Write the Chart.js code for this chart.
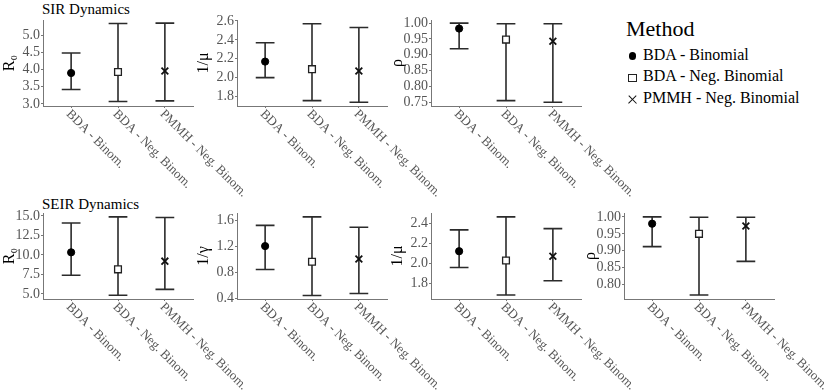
<!DOCTYPE html>
<html>
<head>
<meta charset="utf-8">
<script src="https://cdn.jsdelivr.net/npm/chart.js@4"></script>
<style>
  body { margin: 0; background: #fff; }
  #fig { position: relative; width: 831px; height: 392px; overflow: hidden; font-family: "Liberation Serif", "DejaVu Serif", serif; }
  #fig canvas { position: absolute; }
  .titulo { position: absolute; font-size: 15px; line-height: 15px; color: #000; white-space: nowrap; }
  #legenda { position: absolute; left: 626px; top: 18px; color: #000; }
  #legenda .cab { font-size: 22px; line-height: 22px; margin-bottom: 3.8px; }
  #legenda .item { position: relative; font-size: 16px; line-height: 21.5px; padding-left: 17px; white-space: nowrap; }
  .mk { position: absolute; box-sizing: border-box; }
  .mk.circ { left: 2.5px; top: 8.5px; width: 7.5px; height: 7.5px; border-radius: 50%; background: #000; }
  .mk.quad { left: 2px; top: 8.5px; width: 8.5px; height: 8.5px; border: 1.3px solid #222; background: #fff; }
  .mk.cruz { left: 2px; top: 8.5px; width: 8.5px; height: 8.5px; }
  .mk.cruz::before, .mk.cruz::after { content: ""; position: absolute; left: -1.2px; top: 3.5px; width: 10.9px; height: 1.4px; background: #111; }
  .mk.cruz::before { transform: rotate(45deg); }
  .mk.cruz::after { transform: rotate(-45deg); }
</style>
</head>
<body>
<div id="fig">
  <div class="titulo" style="left:42px; top:2px;">SIR Dynamics</div>
  <div class="titulo" style="left:42px; top:197px;">SEIR Dynamics</div>
  <div id="legenda">
    <div class="cab">Method</div>
    <div class="item"><span class="mk circ"></span>BDA - Binomial</div>
    <div class="item"><span class="mk quad"></span>BDA - Neg. Binomial</div>
    <div class="item"><span class="mk cruz"></span>PMMH - Neg. Binomial</div>
  </div>
</div>
<script>
// =========================================================
// 1. DADOS
// =========================================================
const metodos = ['BDA - Binom.', 'BDA - Neg. Binom.', 'PMMH - Neg. Binom.'];

// SIR - R0
const sirR0Media = [3.90, 3.93, 3.96];
const sirR0Inf = [3.42, 3.07, 3.09];
const sirR0Sup = [4.48, 5.34, 5.35];
const sirR0Ticks = [3.0, 3.5, 4.0, 4.5, 5.0];

// SIR - 1/mu
const sirMuMedia = [2.17, 2.09, 2.07];
const sirMuInf = [2.00, 1.757, 1.74];
const sirMuSup = [2.37, 2.57, 2.53];
const sirMuTicks = [1.8, 2.0, 2.2, 2.4, 2.6];

// SIR - rho
const sirRhoMedia = [0.983, 0.948, 0.943];
const sirRhoInf = [0.919, 0.755, 0.750];
const sirRhoSup = [1.000, 0.998, 0.998];
const sirRhoTicks = [0.75, 0.80, 0.85, 0.90, 0.95, 1.00];

// SEIR - R0
const seirR0Media = [10.33, 8.15, 9.20];
const seirR0Inf = [7.40, 4.83, 5.58];
const seirR0Sup = [14.08, 14.87, 14.79];
const seirR0Ticks = [5.0, 7.5, 10.0, 12.5, 15.0];

// SEIR - 1/gamma
const seirGamaMedia = [1.20, 0.96, 1.00];
const seirGamaInf = [0.84, 0.44, 0.47];
const seirGamaSup = [1.52, 1.65, 1.49];
const seirGamaTicks = [0.4, 0.8, 1.2, 1.6];

// SEIR - 1/mu
const seirMuMedia = [2.12, 2.026, 2.07];
const seirMuInf = [1.957, 1.68, 1.823];
const seirMuSup = [2.334, 2.465, 2.347];
const seirMuTicks = [1.8, 2.0, 2.2, 2.4];

// SEIR - rho
const seirRhoMedia = [0.980, 0.950, 0.973];
const seirRhoInf = [0.9125, 0.770, 0.869];
const seirRhoSup = [1.000, 0.999, 0.999];
const seirRhoTicks = [0.80, 0.85, 0.90, 0.95, 1.00];


// =========================================================
// 2. PLUGINS: barras de erro e rótulos inclinados do eixo x
// =========================================================
const FONTE = '"Liberation Serif", "DejaVu Serif", serif';

const barrasErro = {
    id: 'barrasErro',
    beforeDatasetsDraw(chart) {
        const { ctx, scales: { x, y } } = chart;
        const ds = chart.data.datasets[0];
        ctx.save();
        ctx.strokeStyle = '#2b2b2b';
        ctx.lineWidth = 1.6;
        ds.inf.forEach((lo, i) => {
            const px = x.getPixelForValue(i + 1);
            const meia = x.getPixelForValue(i + 1.2) - px; // largura do "chapéu" = 0.4
            const yLo = y.getPixelForValue(lo);
            const yHi = y.getPixelForValue(ds.sup[i]);
            ctx.beginPath();
            ctx.moveTo(px, yLo); ctx.lineTo(px, yHi);
            ctx.moveTo(px - meia, yLo); ctx.lineTo(px + meia, yLo);
            ctx.moveTo(px - meia, yHi); ctx.lineTo(px + meia, yHi);
            ctx.stroke();
        });
        ctx.restore();
    }
};

const rotulosX = {
    id: 'rotulosX',
    afterDraw(chart) {
        const { ctx, scales: { x } } = chart;
        ctx.save();
        ctx.font = '13px ' + FONTE;
        ctx.fillStyle = '#555';
        ctx.textAlign = 'left';
        ctx.textBaseline = 'middle';
        metodos.forEach((m, i) => {
            const px = x.getPixelForValue(i + 1);
            ctx.save();
            ctx.translate(px - 3, x.top + 6);
            ctx.rotate(Math.PI / 4);
            ctx.fillText(m, 0, 0);
            ctx.restore();
        });
        ctx.restore();
    }
};


// =========================================================
// 3. PAINÉIS
// =========================================================
const paineis = [
    { left: 0,   top: 10,  titulo: 'R₀',  media: sirR0Media,    inf: sirR0Inf,    sup: sirR0Sup,    ticks: sirR0Ticks,    min: 2.94,  max: 5.44,  dec: 1 },
    { left: 194, top: 10,  titulo: '1/μ', media: sirMuMedia,    inf: sirMuInf,    sup: sirMuSup,    ticks: sirMuTicks,    min: 1.70,  max: 2.61,  dec: 1 },
    { left: 388, top: 10,  titulo: 'ρ',   media: sirRhoMedia,   inf: sirRhoInf,   sup: sirRhoSup,   ticks: sirRhoTicks,   min: 0.738, max: 1.010, dec: 2 },
    { left: 0,   top: 203, titulo: 'R₀',  media: seirR0Media,   inf: seirR0Inf,   sup: seirR0Sup,   ticks: seirR0Ticks,   min: 4.35,  max: 15.37, dec: 1 },
    { left: 194, top: 203, titulo: '1/γ', media: seirGamaMedia, inf: seirGamaInf, sup: seirGamaSup, ticks: seirGamaTicks, min: 0.385, max: 1.71,  dec: 1 },
    { left: 388, top: 203, titulo: '1/μ', media: seirMuMedia,   inf: seirMuInf,   sup: seirMuSup,   ticks: seirMuTicks,   min: 1.64,  max: 2.504, dec: 1 },
    { left: 581, top: 203, titulo: 'ρ',   media: seirRhoMedia,  inf: seirRhoInf,  sup: seirRhoSup,  ticks: seirRhoTicks,  min: 0.758, max: 1.0115, dec: 2 }
];

const fig = document.getElementById('fig');

paineis.forEach(p => {
    const canvas = document.createElement('canvas');
    canvas.width = 243;
    canvas.height = 191;
    canvas.style.left = p.left + 'px';
    canvas.style.top = p.top + 'px';
    fig.appendChild(canvas);

    new Chart(canvas, {
        type: 'scatter',
        data: {
            datasets: [{
                data: p.media.map((v, i) => ({ x: i + 1, y: v })),
                inf: p.inf,
                sup: p.sup,
                pointStyle: ['circle', 'rect', 'crossRot'],
                pointRadius: [3.6, 4.8, 4.8],
                backgroundColor: ['#000', '#fff', '#000'],
                borderColor: ['#000', '#222', '#111'],
                borderWidth: [1, 1.3, 1.8]
            }]
        },
        options: {
            responsive: false,
            animation: false,
            layout: { padding: { left: 0, right: 50, top: 10, bottom: 0 } },
            plugins: { legend: { display: false }, tooltip: { enabled: false } },
            scales: {
                x: {
                    type: 'linear',
                    min: 0.4,
                    max: 3.6,
                    afterBuildTicks: s => { s.ticks = metodos.map((m, i) => ({ value: i + 1 })); },
                    ticks: { display: false },
                    grid: { drawOnChartArea: false, tickLength: 2, color: '#777' },
                    border: { color: '#777', width: 1 },
                    afterFit: s => { s.height = 95; }
                },
                y: {
                    min: p.min,
                    max: p.max,
                    afterBuildTicks: s => { s.ticks = p.ticks.map(v => ({ value: v })); },
                    ticks: {
                        color: '#555',
                        padding: 1,
                        autoSkip: false,
                        font: { family: FONTE, size: 14 },
                        callback: v => Number(v).toFixed(p.dec)
                    },
                    grid: { drawOnChartArea: false, tickLength: 2, color: '#777' },
                    border: { color: '#777', width: 1 },
                    title: {
                        display: true,
                        text: p.titulo,
                        color: '#000',
                        padding: 0,
                        font: { family: FONTE, size: 16 }
                    },
                    afterFit: s => { s.width = 43; }
                }
            }
        },
        plugins: [barrasErro, rotulosX]
    });
});
</script>
</body>
</html>
